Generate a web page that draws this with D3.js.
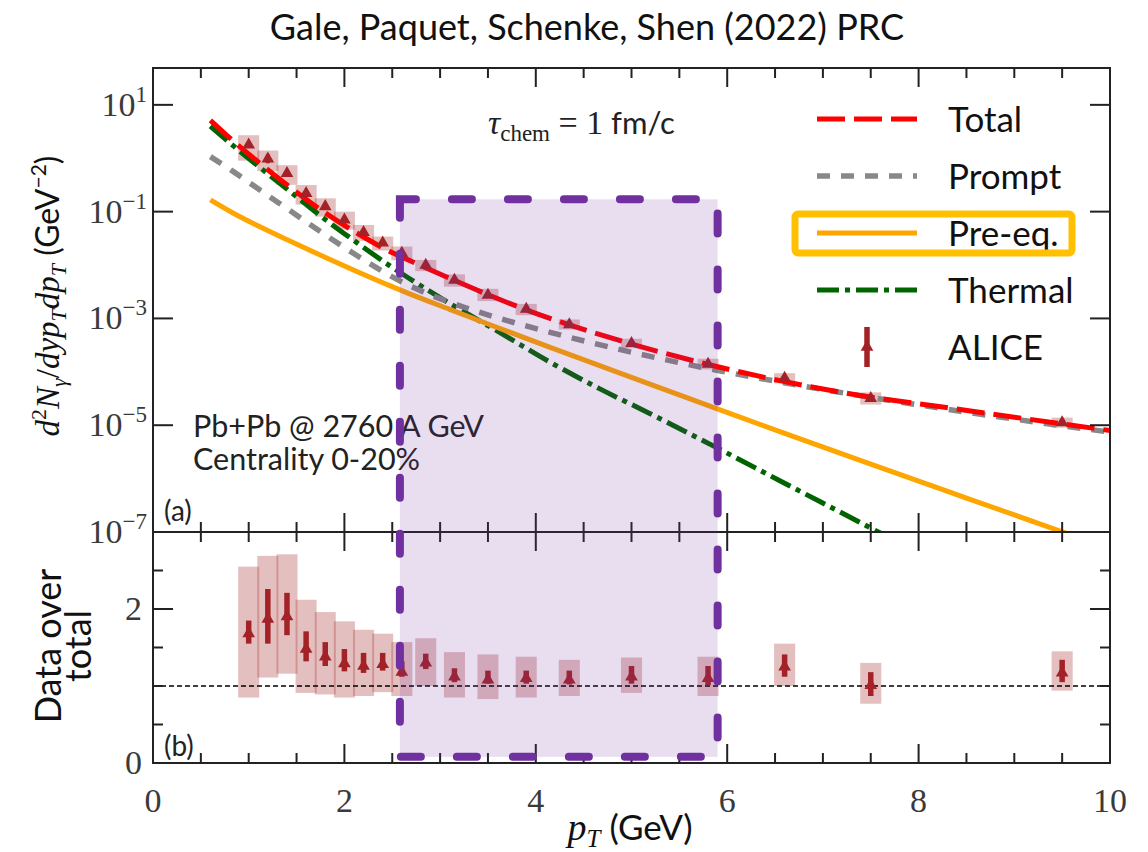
<!DOCTYPE html>
<html>
<head>
<meta charset="utf-8">
<script src="https://cdn.jsdelivr.net/npm/d3@7"></script>
<style>
  html, body { margin: 0; padding: 0; background: #fff; }
  svg { display: block; }
</style>
</head>
<body>
<svg id="chart" width="1148" height="852"></svg>
<script>
// ---------------- data ----------------
// ALICE direct photons, Pb+Pb 2.76 TeV, 0-20%
const alicePt    = [1.0, 1.2, 1.4, 1.6, 1.8, 2.0, 2.2, 2.4, 2.6, 2.85, 3.15, 3.5, 3.9, 4.35, 5.0, 5.8, 6.6, 7.5, 9.5];
const aliceYield = [1.78, 0.97, 0.52, 0.22, 0.125, 0.070, 0.041, 0.026, 0.0167, 0.0100, 0.0052, 0.00275, 0.00149, 0.00077, 0.00034, 0.000140, 7.6e-5, 3.2e-5, 1.12e-5];

// data over total (lower panel)
const ratio       = [1.68, 1.87, 1.90, 1.48, 1.38, 1.29, 1.26, 1.28, 1.18, 1.30, 1.12, 1.08, 1.10, 1.08, 1.12, 1.10, 1.25, 1.01, 1.17];
const ratioStatLo = [1.55, 1.55, 1.66, 1.32, 1.26, 1.19, 1.17, 1.20, 1.12, 1.22, 1.05, 1.03, 1.03, 1.02, 1.03, 1.01, 1.12, 0.87, 1.05];
const ratioStatHi = [1.85, 2.26, 2.21, 1.71, 1.57, 1.48, 1.43, 1.43, 1.32, 1.42, 1.23, 1.20, 1.20, 1.20, 1.26, 1.26, 1.41, 1.18, 1.34];
const ratioSysLo  = [0.85, 1.11, 1.16, 0.91, 0.89, 0.85, 0.87, 0.92, 0.87, 1.00, 0.85, 0.83, 0.85, 0.87, 0.91, 0.87, 1.00, 0.77, 0.94];
const ratioSysHi  = [2.55, 2.69, 2.71, 2.12, 1.96, 1.84, 1.73, 1.68, 1.57, 1.62, 1.44, 1.41, 1.38, 1.34, 1.37, 1.38, 1.55, 1.30, 1.45];
const sysBoxWidth = 0.22; // GeV

// model curves (GeV^-2)
const totalPt    = [0.6, 0.84, 1.08, 1.43, 1.78, 2.13, 2.48, 2.65, 3.14, 3.48, 3.90, 4.35, 5.02, 5.89, 6.59, 7.28, 8.29, 10.0];
const totalYield = [5.13, 2.09, 0.912, 0.288, 0.100, 0.0398, 0.0178, 0.0129, 0.00525, 0.00288, 0.00145, 7.59e-4, 3.24e-4, 1.26e-4, 6.61e-5, 3.89e-5, 2.14e-5, 7.94e-6];

const promptPt    = [0.6, 0.84, 1.08, 1.43, 1.78, 2.13, 2.48, 2.65, 2.9, 3.27, 3.7, 4.15, 5.02, 5.89, 6.55, 8.29, 10.0];
const promptYield = [1.07, 0.562, 0.282, 0.105, 0.0389, 0.0151, 0.00631, 0.00437, 0.00275, 0.00158, 9.12e-4, 5.50e-4, 2.29e-4, 1.07e-4, 6.46e-5, 2.00e-5, 7.41e-6];

const preeqPt    = [0.6, 0.84, 1.08, 1.43, 1.78, 2.13, 2.48, 2.65, 3.1, 3.59, 4.15, 5.0, 5.89, 6.55, 7.5, 8.5, 9.5, 10.0];
const preeqYield = [0.166, 0.0933, 0.0562, 0.0282, 0.01445, 0.00759, 0.00407, 0.00305, 0.00148, 6.84e-4, 2.88e-4, 7.85e-5, 2.04e-5, 7.59e-6, 1.86e-6, 4.32e-7, 1.01e-7, 4.90e-8];

const thermalPt    = [0.6, 0.84, 1.08, 1.43, 1.78, 2.13, 2.48, 2.65, 3.1, 3.63, 4.15, 4.67, 5.19, 5.89, 6.55, 7.6, 8.0];
const thermalYield = [3.98, 1.70, 0.759, 0.240, 0.0759, 0.0263, 0.00955, 0.00603, 0.00191, 5.37e-4, 1.51e-4, 4.79e-5, 1.66e-5, 3.80e-6, 9.12e-7, 9.55e-8, 3.98e-8];

// axes
const ptDomain    = [0, 10];
const yieldDomain = [1e-7, 49];
const ratioDomain = [0, 3];
const ptMajor     = [0, 2, 4, 6, 8, 10];
const ptMinor     = d3.range(0.5, 10, 0.5).filter(v => v % 2 !== 0);
const yieldExp    = [1, -1, -3, -5, -7];
const ratioMajor  = [0, 2];
const ratioMinor  = [0.5, 1, 1.5, 2.5];

// highlighted pT window
const windowPt    = [2.58, 5.9];
const windowYield = 0.17;   // top edge, upper panel
const windowRatio = 0.08;   // bottom edge, lower panel

const legendLabels = ["Total", "Prompt", "Pre-eq.", "Thermal", "ALICE"];

// ---------------- layout ----------------
const svg = d3.select("#chart");
const L = 153, R = 1110, T = 68, MID = 532, B = 763;

const x    = d3.scaleLinear().domain(ptDomain).range([L, R]);
const yUp  = d3.scaleLog().domain(yieldDomain).range([MID, T]);
const yLow = d3.scaleLinear().domain(ratioDomain).range([B, MID]);

const serif = '"Liberation Serif", "DejaVu Serif", serif';
const sans  = 'Lato, "Open Sans", "DejaVu Sans", sans-serif';

const dataColor = "#a32228";
const styles = {
  Total:   { stroke: "#ff0000", width: 5,   dash: "28,9" },
  Prompt:  { stroke: "#888888", width: 5.5, dash: "13,11" },
  "Pre-eq.": { stroke: "#ffa500", width: 5, dash: null },
  Thermal: { stroke: "#006400", width: 5,   dash: "22,6,5,6" }
};

function rich(g, px, py, parts, anchor, fill) {
  const t = g.append("text").attr("x", px).attr("y", py)
    .attr("text-anchor", anchor || "start").attr("fill", fill || "#111");
  parts.forEach(p => {
    const s = t.append("tspan").text(p.t)
      .attr("font-family", p.f || sans)
      .attr("font-size", p.s)
      .attr("font-style", p.i ? "italic" : "normal");
    if (p.dy) s.attr("dy", p.dy);
  });
  return t;
}

svg.append("rect").attr("width", 1148).attr("height", 852).attr("fill", "#fff");

const defs = svg.append("defs");
defs.append("clipPath").attr("id", "clipUp")
  .append("rect").attr("x", L).attr("y", T).attr("width", R - L).attr("height", MID - T);

// ---------------- upper panel ----------------
const up = svg.append("g").attr("clip-path", "url(#clipUp)");

const upRows = alicePt.map((pt, i) => ({
  pt, y: aliceYield[i],
  sysLo: aliceYield[i] * ratioSysLo[i] / ratio[i],
  sysHi: aliceYield[i] * ratioSysHi[i] / ratio[i],
  statLo: aliceYield[i] * ratioStatLo[i] / ratio[i],
  statHi: aliceYield[i] * ratioStatHi[i] / ratio[i]
}));

up.selectAll("rect.sys").data(upRows).join("rect").attr("class", "sys")
  .attr("x", d => x(d.pt - sysBoxWidth / 2))
  .attr("width", d => x(d.pt + sysBoxWidth / 2) - x(d.pt - sysBoxWidth / 2))
  .attr("y", d => yUp(d.sysHi))
  .attr("height", d => yUp(d.sysLo) - yUp(d.sysHi))
  .attr("fill", "#a52a2a").attr("fill-opacity", 0.3);

const curves = [
  ["Thermal", thermalPt, thermalYield],
  ["Pre-eq.", preeqPt, preeqYield],
  ["Prompt", promptPt, promptYield],
  ["Total", totalPt, totalYield]
];
const line = d3.line().x(d => x(d[0])).y(d => yUp(d[1])).curve(d3.curveMonotoneX);
curves.forEach(([name, pts, vals]) => {
  const st = styles[name];
  up.append("path")
    .datum(pts.map((p, i) => [p, vals[i]]))
    .attr("d", line)
    .attr("fill", "none")
    .attr("stroke", st.stroke)
    .attr("stroke-width", st.width)
    .attr("stroke-dasharray", st.dash);
});

up.selectAll("line.stat").data(upRows).join("line").attr("class", "stat")
  .attr("x1", d => x(d.pt)).attr("x2", d => x(d.pt))
  .attr("y1", d => yUp(d.statHi)).attr("y2", d => yUp(d.statLo))
  .attr("stroke", dataColor).attr("stroke-width", 4);

const tri = d3.symbol().type(d3.symbolTriangle).size(70);
up.selectAll("path.mk").data(upRows).join("path").attr("class", "mk")
  .attr("d", tri)
  .attr("transform", d => `translate(${x(d.pt)},${yUp(d.y)})`)
  .attr("fill", dataColor);

// ---------------- lower panel ----------------
const low = svg.append("g");
const lowRows = alicePt.map((pt, i) => ({
  pt, r: ratio[i], sLo: ratioStatLo[i], sHi: ratioStatHi[i], yLo: ratioSysLo[i], yHi: ratioSysHi[i]
}));

low.selectAll("rect.sys").data(lowRows).join("rect").attr("class", "sys")
  .attr("x", d => x(d.pt - sysBoxWidth / 2))
  .attr("width", d => x(d.pt + sysBoxWidth / 2) - x(d.pt - sysBoxWidth / 2))
  .attr("y", d => yLow(d.yHi))
  .attr("height", d => yLow(d.yLo) - yLow(d.yHi))
  .attr("fill", "#a52a2a").attr("fill-opacity", 0.3);

low.append("line")
  .attr("x1", x(ptDomain[0])).attr("x2", x(ptDomain[1]))
  .attr("y1", yLow(1)).attr("y2", yLow(1))
  .attr("stroke", "#000").attr("stroke-width", 1.5).attr("stroke-dasharray", "5,3");

low.selectAll("line.stat").data(lowRows).join("line").attr("class", "stat")
  .attr("x1", d => x(d.pt)).attr("x2", d => x(d.pt))
  .attr("y1", d => yLow(d.sHi)).attr("y2", d => yLow(d.sLo))
  .attr("stroke", dataColor).attr("stroke-width", 5.5);

low.selectAll("path.mk").data(lowRows).join("path").attr("class", "mk")
  .attr("d", tri)
  .attr("transform", d => `translate(${x(d.pt)},${yLow(d.r)})`)
  .attr("fill", dataColor);

// ---------------- frames and ticks ----------------
const ax = svg.append("g").attr("stroke", "#222").attr("stroke-width", 2);
[[T, MID], [MID, B]].forEach(([top, bot]) => {
  ax.append("rect").attr("x", L).attr("y", top).attr("width", R - L).attr("height", bot - top).attr("fill", "none");
  ptMajor.forEach(v => {
    ax.append("line").attr("x1", x(v)).attr("x2", x(v)).attr("y1", top).attr("y2", top + 19);
    ax.append("line").attr("x1", x(v)).attr("x2", x(v)).attr("y1", bot).attr("y2", bot - 19);
  });
  ptMinor.forEach(v => {
    ax.append("line").attr("x1", x(v)).attr("x2", x(v)).attr("y1", top).attr("y2", top + 10);
    ax.append("line").attr("x1", x(v)).attr("x2", x(v)).attr("y1", bot).attr("y2", bot - 10);
  });
});
yieldExp.forEach(e => {
  const yy = yUp(Math.pow(10, e));
  ax.append("line").attr("x1", L).attr("x2", L + 20).attr("y1", yy).attr("y2", yy);
  ax.append("line").attr("x1", R).attr("x2", R - 20).attr("y1", yy).attr("y2", yy);
});
ratioMajor.forEach(v => {
  ax.append("line").attr("x1", L).attr("x2", L + 20).attr("y1", yLow(v)).attr("y2", yLow(v));
  ax.append("line").attr("x1", R).attr("x2", R - 20).attr("y1", yLow(v)).attr("y2", yLow(v));
});
ratioMinor.forEach(v => {
  ax.append("line").attr("x1", L).attr("x2", L + 10).attr("y1", yLow(v)).attr("y2", yLow(v));
  ax.append("line").attr("x1", R).attr("x2", R - 10).attr("y1", yLow(v)).attr("y2", yLow(v));
});

// tick labels
const lab = svg.append("g");
yieldExp.forEach(e => {
  rich(lab, 147, yUp(Math.pow(10, e)) + 11,
    [{ t: "10", f: serif, s: 34 }, { t: e < 0 ? "\u2212" + (-e) : String(e), f: serif, s: 23, dy: -14 }],
    "end", "#3a3a3a");
});
ratioMajor.forEach(v => {
  rich(lab, 142, yLow(v) + 11, [{ t: String(v), f: serif, s: 34 }], "end", "#3a3a3a");
});
ptMajor.forEach(v => {
  rich(lab, x(v), 812, [{ t: String(v), f: serif, s: 34 }], "middle", "#3a3a3a");
});

// axis titles
rich(lab, 630, 840, [
  { t: "p", f: serif, s: 38, i: true },
  { t: "T", f: serif, s: 25, i: true, dy: 7 },
  { t: " (GeV)", f: sans, s: 35, dy: -7 }
], "middle");

const ylab = rich(lab, 0, 0, [
  { t: "d", f: serif, s: 33, i: true },
  { t: "2", f: serif, s: 22, dy: -13 },
  { t: "N", f: serif, s: 33, i: true, dy: 13 },
  { t: "\u03b3", f: serif, s: 22, i: true, dy: 7 },
  { t: "/", f: serif, s: 33, dy: -7 },
  { t: "dyp", f: serif, s: 33, i: true },
  { t: "T", f: serif, s: 22, i: true, dy: 7 },
  { t: "dp", f: serif, s: 33, i: true, dy: -7 },
  { t: "T", f: serif, s: 22, i: true, dy: 7 },
  { t: " (GeV", f: sans, s: 32, dy: -7 },
  { t: "\u22122", f: sans, s: 21, dy: -13 },
  { t: ")", f: sans, s: 32, dy: 13 }
], "middle");
ylab.attr("transform", "translate(59,296) rotate(-90)");

const dlab = lab.append("g").attr("transform", "translate(0,646) rotate(-90)");
rich(dlab, 0, 61, [{ t: "Data over", s: 36 }], "middle");
rich(dlab, 0, 91, [{ t: "total", s: 36 }], "middle");

// ---------------- annotations ----------------
rich(svg, 587, 40, [{ t: "Gale, Paquet, Schenke, Shen (2022) PRC", s: 36 }], "middle");

rich(svg, 488, 134, [
  { t: "\u03c4", f: serif, s: 34, i: true },
  { t: "chem", f: serif, s: 23, dy: 7 },
  { t: " = 1", f: serif, s: 34, dy: -7 },
  { t: " fm/c", s: 31 }
], "start", "#222");

rich(svg, 193, 437, [{ t: "Pb+Pb @ 2760 A GeV", s: 30.5 }], "start", "#222");
rich(svg, 193, 470, [{ t: "Centrality 0-20%", s: 30.5 }], "start", "#222");
rich(svg, 164, 521, [{ t: "(a)", s: 28 }], "start", "#222");
rich(svg, 164, 756, [{ t: "(b)", s: 28 }], "start", "#222");

// ---------------- legend ----------------
const leg = svg.append("g");
const legX0 = 817, legX1 = 917, legTextX = 948, legY0 = 119, legStep = 57;
legendLabels.forEach((name, i) => {
  const yy = legY0 + i * legStep;
  if (styles[name]) {
    const st = styles[name];
    leg.append("line").attr("x1", legX0).attr("x2", legX1).attr("y1", yy).attr("y2", yy)
      .attr("stroke", st.stroke).attr("stroke-width", st.width).attr("stroke-dasharray", st.dash);
  } else {
    const cx = (legX0 + legX1) / 2;
    leg.append("line").attr("x1", cx).attr("x2", cx).attr("y1", yy - 20).attr("y2", yy + 20)
      .attr("stroke", dataColor).attr("stroke-width", 5.5);
    leg.append("path").attr("d", tri).attr("transform", `translate(${cx},${yy})`).attr("fill", dataColor);
  }
  rich(leg, legTextX, yy + 13, [{ t: name, s: 35 }], "start", "#111");
});
// highlight around the pre-equilibrium entry
leg.append("rect").attr("x", 795).attr("y", 214).attr("width", 277).attr("height", 39)
  .attr("rx", 3).attr("fill", "none").attr("stroke", "#ffc000").attr("stroke-width", 7);

// ---------------- highlighted pT window ----------------
const wx0 = x(windowPt[0]), wx1 = x(windowPt[1]);
const wy0 = yUp(windowYield), wy1 = yLow(windowRatio);
svg.append("rect").attr("x", wx0).attr("y", wy0).attr("width", wx1 - wx0).attr("height", wy1 - wy0)
  .attr("fill", "#7030a0").attr("fill-opacity", 0.16);
svg.append("path")
  .attr("d", `M${wx0},${wy0}H${wx1}V${wy1}H${wx0}Z`)
  .attr("fill", "none").attr("stroke", "#7030a0").attr("stroke-width", 8)
  .attr("stroke-linecap", "round").attr("stroke-dasharray", "20,36").attr("stroke-dashoffset", 4);
</script>
</body>
</html>
